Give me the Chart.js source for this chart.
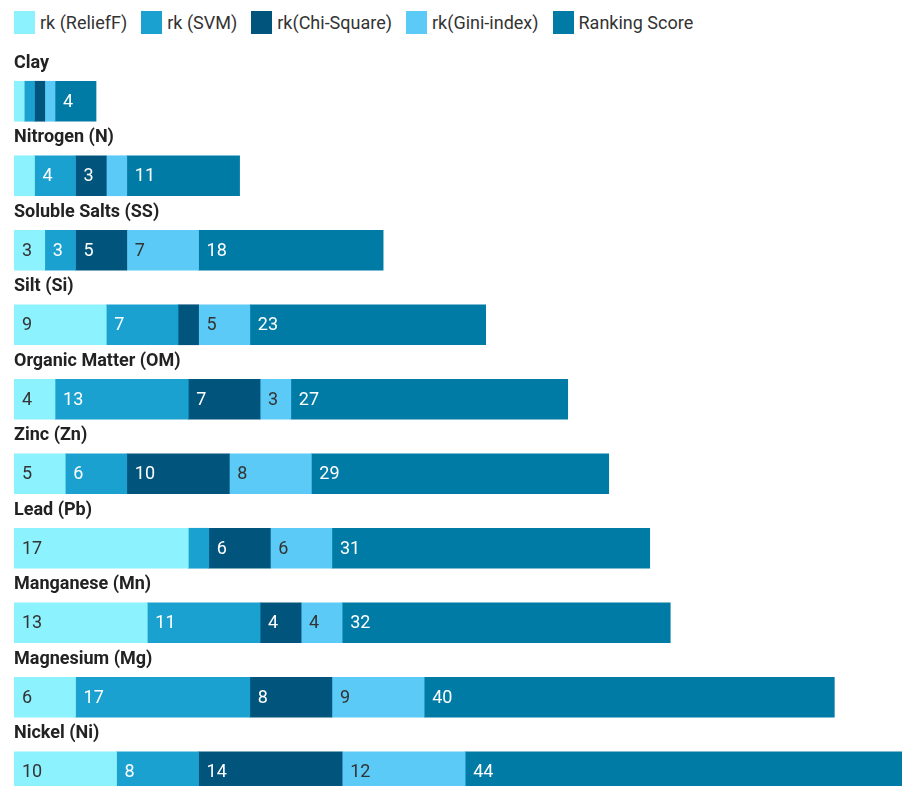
<!DOCTYPE html>
<html>
<head>
<meta charset="utf-8">
<script src="https://cdn.jsdelivr.net/npm/chart.js@4.4.1/dist/chart.umd.min.js"></script>
<style>
  html, body { margin: 0; padding: 0; background: #fff; overflow: hidden; }
  body { width: 902px; height: 786px; position: relative; font-family: Roboto, sans-serif; }
  #legend { position: absolute; left: 14px; top: 11px; display: flex; align-items: center; }
  .item { display: flex; align-items: center; margin-right: 14px; font-size: 18px; color: #333; }
  .swatch { width: 21px; height: 23px; margin-right: 5px; }
  #wrap { position: absolute; left: 0; top: 0; width: 902px; height: 809px; }
</style>
</head>
<body>
<div id="legend"></div>
<div id="wrap"><canvas id="chart"></canvas></div>
<script>
// Categories (top to bottom)
const categories = ['Clay', 'Nitrogen (N)', 'Soluble Salts (SS)', 'Silt (Si)', 'Organic Matter (OM)',
  'Zinc (Zn)', 'Lead (Pb)', 'Manganese (Mn)', 'Magnesium (Mg)', 'Nickel (Ni)'];

// Series values
const rkReliefF = [1, 2, 3, 9, 4, 5, 17, 13, 6, 10];
const rkSVM = [1, 4, 3, 7, 13, 6, 2, 11, 17, 8];
const rkChiSquare = [1, 3, 5, 2, 7, 10, 6, 4, 8, 14];
const rkGini = [1, 2, 7, 5, 3, 8, 6, 4, 9, 12];
const rankingScore = [4, 11, 18, 23, 27, 29, 31, 32, 40, 44];

const seriesNames = ['rk (ReliefF)', 'rk (SVM)', 'rk(Chi-Square)', 'rk(Gini-index)', 'Ranking Score'];
const seriesData = [rkReliefF, rkSVM, rkChiSquare, rkGini, rankingScore];
const seriesColors = ['#8cf2fe', '#1aa1cf', '#01547b', '#5bcaf6', '#007ba6'];
const labelColors = ['#333333', '#ffffff', '#ffffff', '#333333', '#ffffff'];

// HTML legend
const legendEl = document.getElementById('legend');
seriesNames.forEach((name, i) => {
  const item = document.createElement('div');
  item.className = 'item';
  item.innerHTML = '<span class="swatch" style="background:' + seriesColors[i] + '"></span>' + name;
  legendEl.appendChild(item);
});

// Category titles above bars + values inside segments
const labelsPlugin = {
  id: 'barLabels',
  afterDatasetsDraw(chart) {
    const ctx = chart.ctx;
    ctx.save();
    ctx.textBaseline = 'middle';
    chart.data.datasets.forEach((ds, di) => {
      const meta = chart.getDatasetMeta(di);
      meta.data.forEach((bar, i) => {
        const v = ds.data[i];
        if (v < 3) return;
        ctx.font = '18px Roboto, sans-serif';
        ctx.fillStyle = labelColors[di];
        ctx.textAlign = 'left';
        ctx.fillText(String(v), Math.min(bar.base, bar.x) + 8, bar.y + 1);
      });
    });
    const first = chart.getDatasetMeta(0);
    first.data.forEach((bar, i) => {
      ctx.font = 'bold 18px Roboto, sans-serif';
      ctx.fillStyle = '#222';
      ctx.textAlign = 'left';
      ctx.fillText(categories[i], 14, bar.y - bar.height / 2 - 18);
    });
    ctx.restore();
  }
};

new Chart(document.getElementById('chart'), {
  type: 'bar',
  data: {
    labels: categories,
    datasets: seriesData.map((d, i) => ({
      label: seriesNames[i],
      data: d,
      backgroundColor: seriesColors[i],
      borderWidth: 0,
      barThickness: 40
    }))
  },
  options: {
    indexAxis: 'y',
    responsive: true,
    maintainAspectRatio: false,
    animation: false,
    layout: { padding: { left: 14, top: 64, right: 0, bottom: 0 } },
    scales: {
      x: { stacked: true, display: false, min: 0, max: 86.6 },
      y: { stacked: true, display: false }
    },
    plugins: {
      legend: { display: false },
      tooltip: { enabled: false }
    }
  },
  plugins: [labelsPlugin]
});
</script>
</body>
</html>
